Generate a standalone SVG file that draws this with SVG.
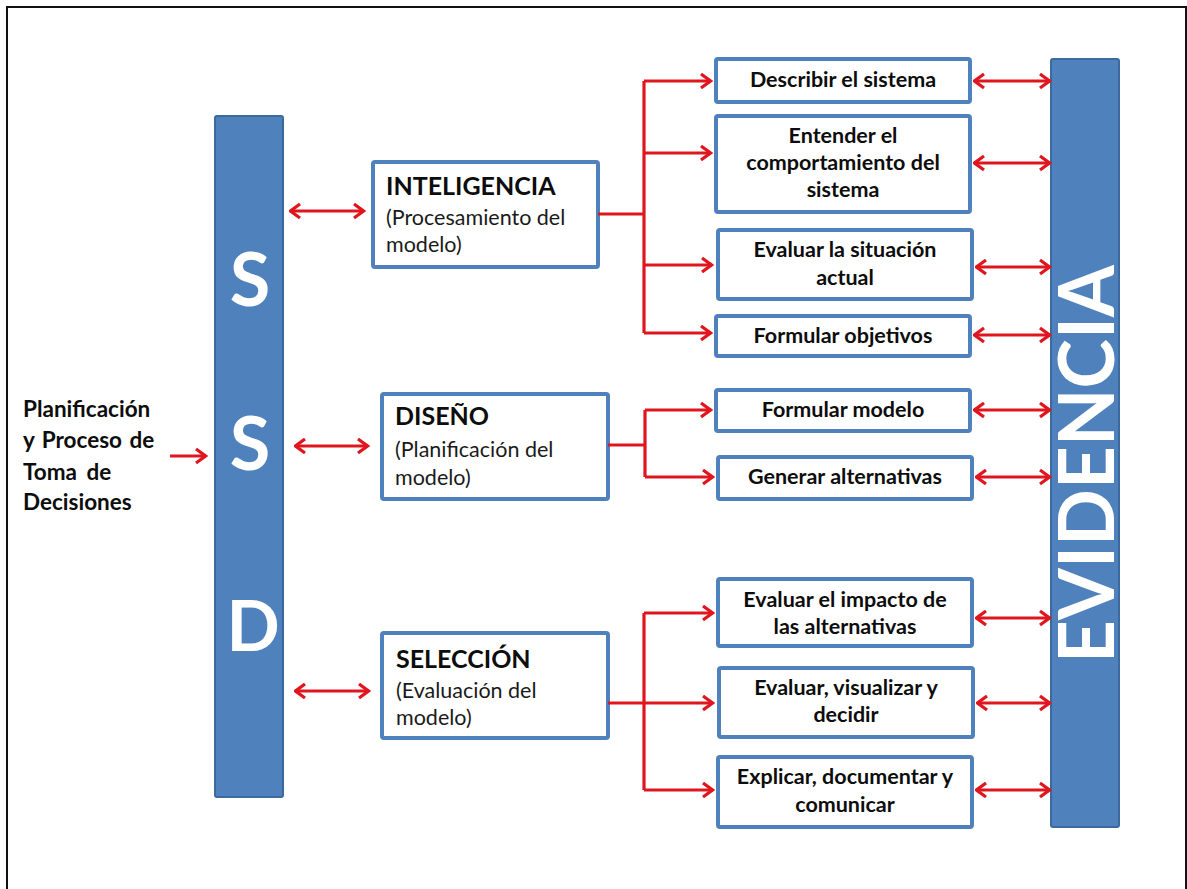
<svg xmlns="http://www.w3.org/2000/svg" width="1187" height="889" viewBox="0 0 1187 889">
<defs>
<style>
.bar{fill:#4F81BD;stroke:#3D6A9E;stroke-width:2}
.box{fill:#FFFFFF;stroke:#4F81BD;stroke-width:4}
.big{font-family:Lato,"Open Sans",sans-serif;font-weight:bold;fill:#FFFFFF}
.lbl{font-family:Lato,"Open Sans",sans-serif;font-weight:bold;font-size:21.5px;fill:#0D0D0D;text-anchor:middle}
.ttl{font-family:Lato,"Open Sans",sans-serif;font-weight:bold;font-size:25px;fill:#0D0D0D}
.sub{font-family:Lato,"Open Sans",sans-serif;font-size:21.5px;fill:#1A1A1A}
.lft{font-family:Lato,"Open Sans",sans-serif;font-weight:bold;font-size:22.5px;fill:#0D0D0D}
.ln{fill:none;stroke:#E0161E;stroke-width:3.2}
</style>
<marker id="ah" viewBox="0 0 13 17" refX="11.5" refY="8.5" markerWidth="13" markerHeight="17" markerUnits="userSpaceOnUse" orient="auto-start-reverse">
<path d="M1.5,1.5 L11,8.5 L1.5,15.5" fill="none" stroke="#E0161E" stroke-width="3.2"/>
</marker>
</defs>
<rect x="0" y="0" width="1187" height="889" fill="#FFFFFF"/>
<rect x="7" y="7" width="1179" height="900" fill="none" stroke="#111111" stroke-width="2"/>

<g id="ssd">
<rect class="bar" x="215" y="116" width="68" height="681" rx="2"/>
<text class="big" x="250" y="306" font-size="74" text-anchor="middle">S</text>
<text class="big" x="250" y="470" font-size="74" text-anchor="middle">S</text>
<text class="big" x="253" y="651" font-size="70" text-anchor="middle">D</text>
</g>

<g id="evidencia">
<rect class="bar" x="1051" y="59" width="68" height="768" rx="2"/>
<text class="big" transform="translate(1114,464) rotate(-90)" font-size="76" text-anchor="middle" textLength="398" lengthAdjust="spacingAndGlyphs">EVIDENCIA</text>
</g>

<g id="planificacion">
<text class="lft" x="23" y="417">Planificación</text>
<text class="lft" x="23" y="448" word-spacing="2">y Proceso de</text>
<text class="lft" x="23" y="480" word-spacing="4">Toma de</text>
<text class="lft" x="23" y="510">Decisiones</text>
</g>

<g id="inteligencia">
<rect class="box" x="373" y="162" width="225" height="105" rx="2"/>
<text class="ttl" x="386" y="195">INTELIGENCIA</text>
<text class="sub" x="386" y="225">(Procesamiento del</text>
<text class="sub" x="386" y="252">modelo)</text>
</g>

<g id="diseno">
<rect class="box" x="382" y="394" width="226" height="105" rx="2"/>
<text class="ttl" x="395" y="425">DISEÑO</text>
<text class="sub" x="395" y="457">(Planificación del</text>
<text class="sub" x="395" y="485">modelo)</text>
</g>

<g id="seleccion">
<rect class="box" x="382" y="633" width="226" height="105" rx="2"/>
<text class="ttl" x="396" y="668">SELECCIÓN</text>
<text class="sub" x="396" y="698">(Evaluación del</text>
<text class="sub" x="396" y="725">modelo)</text>
</g>

<g id="describir">
<rect class="box" x="716" y="59" width="254" height="43" rx="2"/>
<text class="lbl" x="843" y="87">Describir el sistema</text>
</g>
<g id="entender">
<rect class="box" x="716" y="116" width="254" height="96" rx="2"/>
<text class="lbl" x="843" y="143">Entender el</text>
<text class="lbl" x="843" y="170">comportamiento del</text>
<text class="lbl" x="843" y="197">sistema</text>
</g>
<g id="evaluar-situacion">
<rect class="box" x="718" y="230" width="254" height="69" rx="2"/>
<text class="lbl" x="845" y="257">Evaluar la situación</text>
<text class="lbl" x="845" y="285">actual</text>
</g>
<g id="formular-objetivos">
<rect class="box" x="716" y="316" width="254" height="40" rx="2"/>
<text class="lbl" x="843" y="343">Formular objetivos</text>
</g>
<g id="formular-modelo">
<rect class="box" x="716" y="390" width="254" height="41" rx="2"/>
<text class="lbl" x="843" y="417">Formular modelo</text>
</g>
<g id="generar">
<rect class="box" x="718" y="457" width="254" height="42" rx="2"/>
<text class="lbl" x="845" y="484">Generar alternativas</text>
</g>
<g id="impacto">
<rect class="box" x="718" y="579" width="254" height="67" rx="2"/>
<text class="lbl" x="845" y="607">Evaluar el impacto de</text>
<text class="lbl" x="845" y="634">las alternativas</text>
</g>
<g id="visualizar">
<rect class="box" x="719" y="668" width="254" height="69" rx="2"/>
<text class="lbl" x="846" y="695">Evaluar, visualizar y</text>
<text class="lbl" x="846" y="722">decidir</text>
</g>
<g id="explicar">
<rect class="box" x="718" y="757" width="254" height="70" rx="2"/>
<text class="lbl" x="845" y="784">Explicar, documentar y</text>
<text class="lbl" x="845" y="812">comunicar</text>
</g>

<g id="connectors">
<path class="ln" d="M170,456 H206" marker-end="url(#ah)"/>
<path class="ln" d="M290,211 H364" marker-start="url(#ah)" marker-end="url(#ah)"/>
<path class="ln" d="M295,446 H368" marker-start="url(#ah)" marker-end="url(#ah)"/>
<path class="ln" d="M295,691 H369" marker-start="url(#ah)" marker-end="url(#ah)"/>

<path class="ln" d="M598,214 H644 M644,81 V333"/>
<path class="ln" d="M644,81 H711" marker-end="url(#ah)"/>
<path class="ln" d="M644,153 H711" marker-end="url(#ah)"/>
<path class="ln" d="M644,265 H712" marker-end="url(#ah)"/>
<path class="ln" d="M644,333 H711" marker-end="url(#ah)"/>

<path class="ln" d="M608,445 H645 M645,410 V477"/>
<path class="ln" d="M645,410 H711" marker-end="url(#ah)"/>
<path class="ln" d="M645,477 H713" marker-end="url(#ah)"/>

<path class="ln" d="M608,703 H644 M644,613 V790"/>
<path class="ln" d="M644,613 H713" marker-end="url(#ah)"/>
<path class="ln" d="M644,703 H713" marker-end="url(#ah)"/>
<path class="ln" d="M644,790 H713" marker-end="url(#ah)"/>

<path class="ln" d="M974,81 H1050" marker-start="url(#ah)" marker-end="url(#ah)"/>
<path class="ln" d="M974,163 H1050" marker-start="url(#ah)" marker-end="url(#ah)"/>
<path class="ln" d="M976,267 H1050" marker-start="url(#ah)" marker-end="url(#ah)"/>
<path class="ln" d="M974,335 H1050" marker-start="url(#ah)" marker-end="url(#ah)"/>
<path class="ln" d="M974,410 H1050" marker-start="url(#ah)" marker-end="url(#ah)"/>
<path class="ln" d="M976,477 H1050" marker-start="url(#ah)" marker-end="url(#ah)"/>
<path class="ln" d="M976,618 H1050" marker-start="url(#ah)" marker-end="url(#ah)"/>
<path class="ln" d="M977,703 H1050" marker-start="url(#ah)" marker-end="url(#ah)"/>
<path class="ln" d="M976,790 H1050" marker-start="url(#ah)" marker-end="url(#ah)"/>
</g>
</svg>
